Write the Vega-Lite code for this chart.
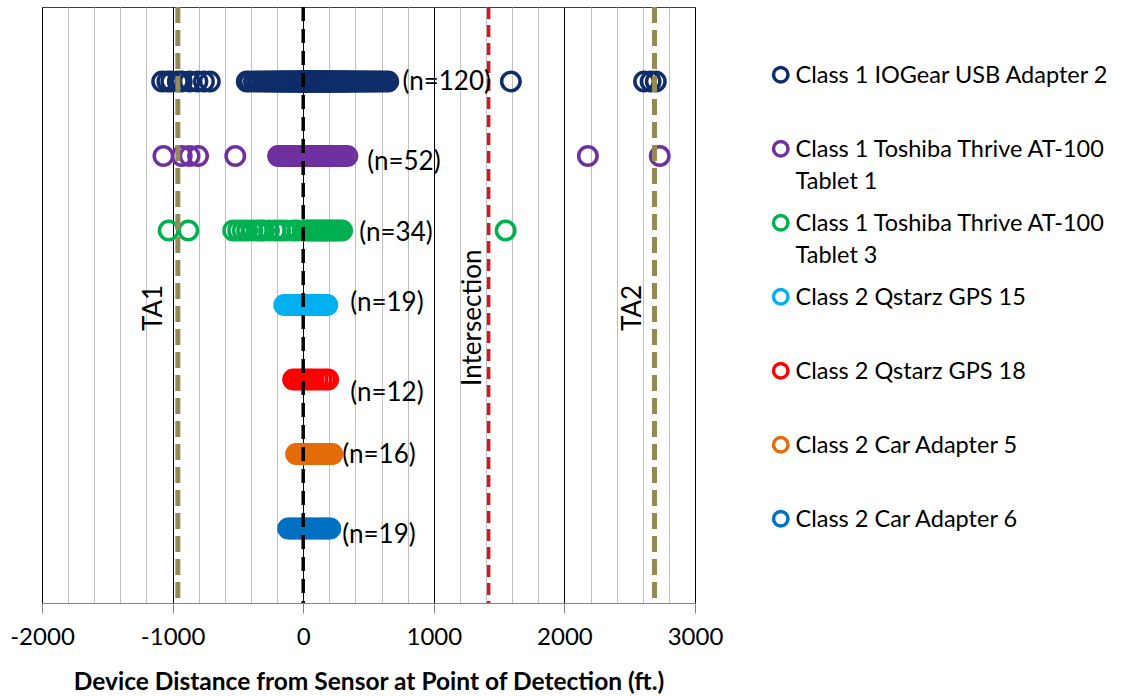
{
  "$schema": "https://vega.github.io/schema/vega-lite/v6.json",
  "width": 653,
  "height": 596,
  "autosize": {"type": "none"},
  "padding": {"left": 42, "top": 7, "right": 432, "bottom": 93},
  "background": "white",
  "config": {
    "font": "Lato",
    "view": {"stroke": "#404040", "strokeWidth": 1},
    "style": {"guide-label": {"lineHeight": 32, "dy": -11}}
  },
  "datasets": {
    "devices": [
      {"device": "IOGear 2", "name": "Class 1 IOGear USB Adapter 2", "row": 7},
      {"device": "Toshiba 1", "name": "Class 1 Toshiba Thrive AT-100 Tablet 1", "row": 6},
      {"device": "Toshiba 3", "name": "Class 1 Toshiba Thrive AT-100 Tablet 3", "row": 5},
      {"device": "GPS 15", "name": "Class 2 Qstarz GPS 15", "row": 4},
      {"device": "GPS 18", "name": "Class 2 Qstarz GPS 18", "row": 3},
      {"device": "Car 5", "name": "Class 2 Car Adapter 5", "row": 2},
      {"device": "Car 6", "name": "Class 2 Car Adapter 6", "row": 1}
    ],
    "detections": [
      {"device": "IOGear 2", "ft": -1080}, {"device": "IOGear 2", "ft": -1040}, {"device": "IOGear 2", "ft": -1010},
      {"device": "IOGear 2", "ft": -960}, {"device": "IOGear 2", "ft": -930}, {"device": "IOGear 2", "ft": -870},
      {"device": "IOGear 2", "ft": -810}, {"device": "IOGear 2", "ft": -760}, {"device": "IOGear 2", "ft": -715},
      {"device": "IOGear 2", "ft": -432}, {"device": "IOGear 2", "ft": -408}, {"device": "IOGear 2", "ft": -377},
      {"device": "IOGear 2", "ft": -352}, {"device": "IOGear 2", "ft": -331}, {"device": "IOGear 2", "ft": -306},
      {"device": "IOGear 2", "ft": -288}, {"device": "IOGear 2", "ft": -271}, {"device": "IOGear 2", "ft": -252},
      {"device": "IOGear 2", "ft": -238}, {"device": "IOGear 2", "ft": -221}, {"device": "IOGear 2", "ft": -207},
      {"device": "IOGear 2", "ft": -193}, {"device": "IOGear 2", "ft": -182}, {"device": "IOGear 2", "ft": -168},
      {"device": "IOGear 2", "ft": -156}, {"device": "IOGear 2", "ft": -149}, {"device": "IOGear 2", "ft": -137},
      {"device": "IOGear 2", "ft": -124}, {"device": "IOGear 2", "ft": -115}, {"device": "IOGear 2", "ft": -106},
      {"device": "IOGear 2", "ft": -97}, {"device": "IOGear 2", "ft": -88}, {"device": "IOGear 2", "ft": -79},
      {"device": "IOGear 2", "ft": -66}, {"device": "IOGear 2", "ft": -58}, {"device": "IOGear 2", "ft": -49},
      {"device": "IOGear 2", "ft": -41}, {"device": "IOGear 2", "ft": -33}, {"device": "IOGear 2", "ft": -27},
      {"device": "IOGear 2", "ft": -19}, {"device": "IOGear 2", "ft": -15}, {"device": "IOGear 2", "ft": -12},
      {"device": "IOGear 2", "ft": -6}, {"device": "IOGear 2", "ft": -2}, {"device": "IOGear 2", "ft": 3},
      {"device": "IOGear 2", "ft": 8}, {"device": "IOGear 2", "ft": 14}, {"device": "IOGear 2", "ft": 19},
      {"device": "IOGear 2", "ft": 26}, {"device": "IOGear 2", "ft": 31}, {"device": "IOGear 2", "ft": 37},
      {"device": "IOGear 2", "ft": 44}, {"device": "IOGear 2", "ft": 48}, {"device": "IOGear 2", "ft": 55},
      {"device": "IOGear 2", "ft": 61}, {"device": "IOGear 2", "ft": 62}, {"device": "IOGear 2", "ft": 67},
      {"device": "IOGear 2", "ft": 72}, {"device": "IOGear 2", "ft": 79}, {"device": "IOGear 2", "ft": 84},
      {"device": "IOGear 2", "ft": 91}, {"device": "IOGear 2", "ft": 97}, {"device": "IOGear 2", "ft": 103},
      {"device": "IOGear 2", "ft": 108}, {"device": "IOGear 2", "ft": 116}, {"device": "IOGear 2", "ft": 121},
      {"device": "IOGear 2", "ft": 129}, {"device": "IOGear 2", "ft": 134}, {"device": "IOGear 2", "ft": 140},
      {"device": "IOGear 2", "ft": 142}, {"device": "IOGear 2", "ft": 147}, {"device": "IOGear 2", "ft": 153},
      {"device": "IOGear 2", "ft": 161}, {"device": "IOGear 2", "ft": 167}, {"device": "IOGear 2", "ft": 174},
      {"device": "IOGear 2", "ft": 181}, {"device": "IOGear 2", "ft": 188}, {"device": "IOGear 2", "ft": 194},
      {"device": "IOGear 2", "ft": 200}, {"device": "IOGear 2", "ft": 203}, {"device": "IOGear 2", "ft": 209},
      {"device": "IOGear 2", "ft": 216}, {"device": "IOGear 2", "ft": 224}, {"device": "IOGear 2", "ft": 231},
      {"device": "IOGear 2", "ft": 239}, {"device": "IOGear 2", "ft": 246}, {"device": "IOGear 2", "ft": 254},
      {"device": "IOGear 2", "ft": 262}, {"device": "IOGear 2", "ft": 271}, {"device": "IOGear 2", "ft": 279},
      {"device": "IOGear 2", "ft": 288}, {"device": "IOGear 2", "ft": 296}, {"device": "IOGear 2", "ft": 305},
      {"device": "IOGear 2", "ft": 314}, {"device": "IOGear 2", "ft": 322}, {"device": "IOGear 2", "ft": 331},
      {"device": "IOGear 2", "ft": 341}, {"device": "IOGear 2", "ft": 352}, {"device": "IOGear 2", "ft": 363},
      {"device": "IOGear 2", "ft": 374}, {"device": "IOGear 2", "ft": 386}, {"device": "IOGear 2", "ft": 399},
      {"device": "IOGear 2", "ft": 412}, {"device": "IOGear 2", "ft": 426}, {"device": "IOGear 2", "ft": 441},
      {"device": "IOGear 2", "ft": 457}, {"device": "IOGear 2", "ft": 472}, {"device": "IOGear 2", "ft": 489},
      {"device": "IOGear 2", "ft": 506}, {"device": "IOGear 2", "ft": 523}, {"device": "IOGear 2", "ft": 541},
      {"device": "IOGear 2", "ft": 562}, {"device": "IOGear 2", "ft": 583}, {"device": "IOGear 2", "ft": 604},
      {"device": "IOGear 2", "ft": 628}, {"device": "IOGear 2", "ft": 651}, {"device": "IOGear 2", "ft": 1590},
      {"device": "IOGear 2", "ft": 2610}, {"device": "IOGear 2", "ft": 2660}, {"device": "IOGear 2", "ft": 2700},

      {"device": "Toshiba 1", "ft": -1070}, {"device": "Toshiba 1", "ft": -930}, {"device": "Toshiba 1", "ft": -870},
      {"device": "Toshiba 1", "ft": -805}, {"device": "Toshiba 1", "ft": -520}, {"device": "Toshiba 1", "ft": -192},
      {"device": "Toshiba 1", "ft": -178}, {"device": "Toshiba 1", "ft": -165}, {"device": "Toshiba 1", "ft": -151},
      {"device": "Toshiba 1", "ft": -139}, {"device": "Toshiba 1", "ft": -126}, {"device": "Toshiba 1", "ft": -114},
      {"device": "Toshiba 1", "ft": -101}, {"device": "Toshiba 1", "ft": -90}, {"device": "Toshiba 1", "ft": -78},
      {"device": "Toshiba 1", "ft": -67}, {"device": "Toshiba 1", "ft": -55}, {"device": "Toshiba 1", "ft": -44},
      {"device": "Toshiba 1", "ft": -32}, {"device": "Toshiba 1", "ft": -21}, {"device": "Toshiba 1", "ft": -10},
      {"device": "Toshiba 1", "ft": -3}, {"device": "Toshiba 1", "ft": 6}, {"device": "Toshiba 1", "ft": 15},
      {"device": "Toshiba 1", "ft": 24}, {"device": "Toshiba 1", "ft": 33}, {"device": "Toshiba 1", "ft": 42},
      {"device": "Toshiba 1", "ft": 51}, {"device": "Toshiba 1", "ft": 60}, {"device": "Toshiba 1", "ft": 69},
      {"device": "Toshiba 1", "ft": 78}, {"device": "Toshiba 1", "ft": 88}, {"device": "Toshiba 1", "ft": 97},
      {"device": "Toshiba 1", "ft": 107}, {"device": "Toshiba 1", "ft": 116}, {"device": "Toshiba 1", "ft": 126},
      {"device": "Toshiba 1", "ft": 137}, {"device": "Toshiba 1", "ft": 147}, {"device": "Toshiba 1", "ft": 158},
      {"device": "Toshiba 1", "ft": 170}, {"device": "Toshiba 1", "ft": 182}, {"device": "Toshiba 1", "ft": 194},
      {"device": "Toshiba 1", "ft": 207}, {"device": "Toshiba 1", "ft": 221}, {"device": "Toshiba 1", "ft": 236},
      {"device": "Toshiba 1", "ft": 252}, {"device": "Toshiba 1", "ft": 270}, {"device": "Toshiba 1", "ft": 289},
      {"device": "Toshiba 1", "ft": 312}, {"device": "Toshiba 1", "ft": 338}, {"device": "Toshiba 1", "ft": 2180},
      {"device": "Toshiba 1", "ft": 2730},

      {"device": "Toshiba 3", "ft": -1030}, {"device": "Toshiba 3", "ft": -880}, {"device": "Toshiba 3", "ft": -536},
      {"device": "Toshiba 3", "ft": -498}, {"device": "Toshiba 3", "ft": -462}, {"device": "Toshiba 3", "ft": -429},
      {"device": "Toshiba 3", "ft": -390}, {"device": "Toshiba 3", "ft": -352}, {"device": "Toshiba 3", "ft": -325},
      {"device": "Toshiba 3", "ft": -306}, {"device": "Toshiba 3", "ft": -262}, {"device": "Toshiba 3", "ft": -214},
      {"device": "Toshiba 3", "ft": -176}, {"device": "Toshiba 3", "ft": -140}, {"device": "Toshiba 3", "ft": -77},
      {"device": "Toshiba 3", "ft": -46}, {"device": "Toshiba 3", "ft": -5}, {"device": "Toshiba 3", "ft": 18},
      {"device": "Toshiba 3", "ft": 38}, {"device": "Toshiba 3", "ft": 57}, {"device": "Toshiba 3", "ft": 75},
      {"device": "Toshiba 3", "ft": 92}, {"device": "Toshiba 3", "ft": 110}, {"device": "Toshiba 3", "ft": 128},
      {"device": "Toshiba 3", "ft": 146}, {"device": "Toshiba 3", "ft": 163}, {"device": "Toshiba 3", "ft": 181},
      {"device": "Toshiba 3", "ft": 199}, {"device": "Toshiba 3", "ft": 218}, {"device": "Toshiba 3", "ft": 238},
      {"device": "Toshiba 3", "ft": 256}, {"device": "Toshiba 3", "ft": 277}, {"device": "Toshiba 3", "ft": 298},
      {"device": "Toshiba 3", "ft": 1550},

      {"device": "GPS 15", "ft": -145}, {"device": "GPS 15", "ft": -128}, {"device": "GPS 15", "ft": -104},
      {"device": "GPS 15", "ft": -80}, {"device": "GPS 15", "ft": -58}, {"device": "GPS 15", "ft": -35},
      {"device": "GPS 15", "ft": -14}, {"device": "GPS 15", "ft": 5}, {"device": "GPS 15", "ft": 22},
      {"device": "GPS 15", "ft": 40}, {"device": "GPS 15", "ft": 57}, {"device": "GPS 15", "ft": 74},
      {"device": "GPS 15", "ft": 90}, {"device": "GPS 15", "ft": 106}, {"device": "GPS 15", "ft": 122},
      {"device": "GPS 15", "ft": 139}, {"device": "GPS 15", "ft": 153}, {"device": "GPS 15", "ft": 168},
      {"device": "GPS 15", "ft": 184},

      {"device": "GPS 18", "ft": -77}, {"device": "GPS 18", "ft": -55}, {"device": "GPS 18", "ft": -30},
      {"device": "GPS 18", "ft": -8}, {"device": "GPS 18", "ft": 12}, {"device": "GPS 18", "ft": 35},
      {"device": "GPS 18", "ft": 58}, {"device": "GPS 18", "ft": 80}, {"device": "GPS 18", "ft": 110},
      {"device": "GPS 18", "ft": 140}, {"device": "GPS 18", "ft": 168}, {"device": "GPS 18", "ft": 191},

      {"device": "Car 5", "ft": -54}, {"device": "Car 5", "ft": -35}, {"device": "Car 5", "ft": -15},
      {"device": "Car 5", "ft": 3}, {"device": "Car 5", "ft": 22}, {"device": "Car 5", "ft": 40},
      {"device": "Car 5", "ft": 58}, {"device": "Car 5", "ft": 75}, {"device": "Car 5", "ft": 92},
      {"device": "Car 5", "ft": 110}, {"device": "Car 5", "ft": 128}, {"device": "Car 5", "ft": 146},
      {"device": "Car 5", "ft": 164}, {"device": "Car 5", "ft": 183}, {"device": "Car 5", "ft": 202},
      {"device": "Car 5", "ft": 222},

      {"device": "Car 6", "ft": -115}, {"device": "Car 6", "ft": -98}, {"device": "Car 6", "ft": -80},
      {"device": "Car 6", "ft": -62}, {"device": "Car 6", "ft": -43}, {"device": "Car 6", "ft": -25},
      {"device": "Car 6", "ft": -8}, {"device": "Car 6", "ft": 10}, {"device": "Car 6", "ft": 28},
      {"device": "Car 6", "ft": 45}, {"device": "Car 6", "ft": 62}, {"device": "Car 6", "ft": 80},
      {"device": "Car 6", "ft": 98}, {"device": "Car 6", "ft": 117}, {"device": "Car 6", "ft": 135},
      {"device": "Car 6", "ft": 152}, {"device": "Car 6", "ft": 170}, {"device": "Car 6", "ft": 189},
      {"device": "Car 6", "ft": 207}
    ],
    "counts": [
      {"text": "(n=120)", "ft": 760, "row": 6.99},
      {"text": "(n=52)", "ft": 490, "row": 5.92},
      {"text": "(n=34)", "ft": 429, "row": 4.97},
      {"text": "(n=19)", "ft": 360, "row": 4.03},
      {"text": "(n=12)", "ft": 360, "row": 2.82},
      {"text": "(n=16)", "ft": 299, "row": 1.99},
      {"text": "(n=19)", "ft": 299, "row": 0.91}
    ],
    "refs": [
      {"kind": "approach", "ft": -960},
      {"kind": "approach", "ft": 2690},
      {"kind": "sensor", "ft": 0},
      {"kind": "intersection", "ft": 1420}
    ],
    "refLabels": [
      {"text": "TA1", "ft": -1141, "row": 3.96},
      {"text": "Intersection", "ft": 1302, "row": 3.83},
      {"text": "TA2", "ft": 2527, "row": 3.96}
    ]
  },
  "layer": [
    {
      "data": {"name": "detections"},
      "transform": [
        {"lookup": "device", "from": {"data": {"name": "devices"}, "key": "device", "fields": ["name", "row"]}}
      ],
      "mark": {"type": "point", "shape": "circle", "filled": false, "strokeWidth": 3.5, "size": 340, "opacity": 1},
      "encoding": {
        "x": {
          "field": "ft",
          "type": "quantitative",
          "scale": {"domain": [-2000, 3000], "nice": false, "zero": false},
          "axis": {
            "title": "Device Distance from Sensor at Point of Detection (ft.)",
            "titleFont": "Lato",
            "titleFontSize": 24.5,
            "titleFontWeight": "bold",
            "titleColor": "black",
            "titlePadding": 21,
            "values": [-2000, -1800, -1600, -1400, -1200, -1000, -800, -600, -400, -200, 0, 200, 400, 600, 800, 1000, 1200, 1400, 1600, 1800, 2000, 2200, 2400, 2600, 2800, 3000],
            "tickCount": 30,
            "grid": true,
            "gridColor": {"condition": {"test": "datum.value % 1000 === 0", "value": "#000000"}, "value": "#C0C0C0"},
            "gridWidth": 1,
            "domainColor": "#868686",
            "tickColor": "#868686",
            "tickSize": 10,
            "tickOpacity": {"condition": {"test": "datum.value % 1000 === 0", "value": 1}, "value": 0},
            "labelExpr": "datum.value % 1000 === 0 ? '' + datum.value : ''",
            "labelFlush": false,
            "labelFont": "Lato",
            "labelFontSize": 24,
            "labelColor": "black",
            "labelPadding": 23,
            "labelOverlap": false
          }
        },
        "y": {"field": "row", "type": "quantitative", "scale": {"domain": [0, 8], "nice": false, "zero": false}, "axis": null},
        "color": {
          "field": "name",
          "type": "nominal",
          "scale": {
            "domain": ["Class 1 IOGear USB Adapter 2", "Class 1 Toshiba Thrive AT-100 Tablet 1", "Class 1 Toshiba Thrive AT-100 Tablet 3", "Class 2 Qstarz GPS 15", "Class 2 Qstarz GPS 18", "Class 2 Car Adapter 5", "Class 2 Car Adapter 6"],
            "range": ["#0F2D69", "#7030A0", "#00B050", "#00B0F0", "#FF0000", "#E36C09", "#0070C0"]
          },
          "legend": {
            "title": null,
            "orient": "none",
            "legendX": 727,
            "legendY": 56,
            "padding": 0,
            "labelFont": "Lato",
            "labelFontSize": 23.5,
            "labelColor": "black",
            "labelLimit": 420,
            "labelOffset": 3,
            "labelBaseline": "top",
            "labelExpr": "indexof(datum.label, ' Tablet') > 0 ? [substring(datum.label, 0, indexof(datum.label, ' Tablet')), substring(datum.label, indexof(datum.label, 'Tablet'))] : [datum.label, '']",
            "symbolType": "circle",
            "symbolSize": 210,
            "symbolStrokeWidth": 3.5,
            "rowPadding": 14
          }
        }
      }
    },
    {
      "data": {"name": "refs"},
      "transform": [{"filter": "datum.kind === 'approach'"}],
      "mark": {"type": "rule", "color": "#948A54", "strokeWidth": 5, "strokeDash": [16, 7]},
      "encoding": {"x": {"field": "ft", "type": "quantitative"}}
    },
    {
      "data": {"name": "refs"},
      "transform": [{"filter": "datum.kind === 'sensor'"}],
      "mark": {"type": "rule", "color": "#000000", "strokeWidth": 3.5, "strokeDash": [14, 8]},
      "encoding": {"x": {"field": "ft", "type": "quantitative"}}
    },
    {
      "data": {"name": "refs"},
      "transform": [{"filter": "datum.kind === 'intersection'"}],
      "mark": {"type": "rule", "color": "#D9141E", "strokeWidth": 3.5, "strokeDash": [12, 6]},
      "encoding": {"x": {"field": "ft", "type": "quantitative"}}
    },
    {
      "data": {"name": "counts"},
      "mark": {"type": "text", "align": "left", "baseline": "middle", "font": "Lato", "fontSize": 26, "color": "black"},
      "encoding": {
        "x": {"field": "ft", "type": "quantitative"},
        "y": {"field": "row", "type": "quantitative"},
        "text": {"field": "text"}
      }
    },
    {
      "data": {"name": "refLabels"},
      "mark": {"type": "text", "align": "center", "baseline": "middle", "angle": 270, "font": "Lato", "fontSize": 26, "color": "black"},
      "encoding": {
        "x": {"field": "ft", "type": "quantitative"},
        "y": {"field": "row", "type": "quantitative"},
        "text": {"field": "text"}
      }
    }
  ]
}
